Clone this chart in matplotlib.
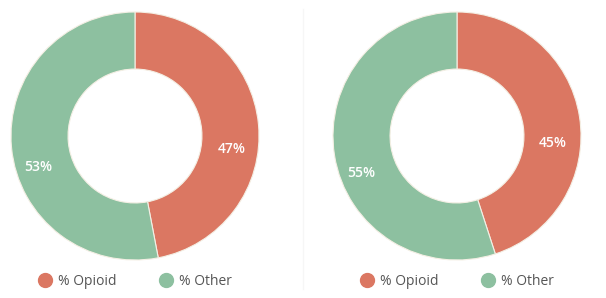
import numpy as np
import matplotlib.pyplot as plt
from matplotlib.lines import Line2D

# two donut charts, same two categories
categories = ['% Opioid', '% Other']
left_values = [47, 53]
right_values = [45, 55]
colors = ['#DB7762', '#8DC0A0']

plt.rcParams['font.family'] = ['Open Sans', 'DejaVu Sans']

fig = plt.figure(figsize=(6.06, 2.98), dpi=100)
fig.patch.set_facecolor('white')


def donut(ax, values):
    wedges, _ = ax.pie(values, colors=colors, startangle=90, counterclock=False,
                       radius=1.0,
                       wedgeprops=dict(width=0.46, edgecolor='#f4efe4', linewidth=0.8))
    total = float(sum(values))
    start = 90.0
    for v in values:
        mid = np.radians(start - 360.0 * v / total / 2)
        x = 0.78 * np.cos(mid)
        y = 0.78 * np.sin(mid) - 0.18
        ax.text(x, y, '%d%%' % v, color='white', fontsize=10, fontweight='semibold',
                ha='center', va='center')
        start -= 360.0 * v / total
    ax.set_xlim(-1, 1)
    ax.set_ylim(-1, 1)
    ax.set_aspect('equal')
    ax.axis('off')

    handles = [Line2D([], [], marker='o', linestyle='', markersize=10,
                      markerfacecolor=c, markeredgecolor=c) for c in colors]
    ax.legend(handles, categories, loc='center', bbox_to_anchor=(0.5, -0.085),
              ncol=2, frameon=False, fontsize=10, labelcolor='#555555',
              handletextpad=0.5, columnspacing=3.0, handlelength=1.0)


ax1 = fig.add_axes([11 / 606, 38 / 298, 248 / 606, 248 / 298])
donut(ax1, left_values)
ax2 = fig.add_axes([333 / 606, 38 / 298, 248 / 606, 248 / 298])
donut(ax2, right_values)

# faint divider between the two panels
fig.add_artist(Line2D([303 / 606, 303 / 606], [0.03, 0.97], color='#f6f6f6', linewidth=1))

plt.savefig('out.png', dpi=100)
